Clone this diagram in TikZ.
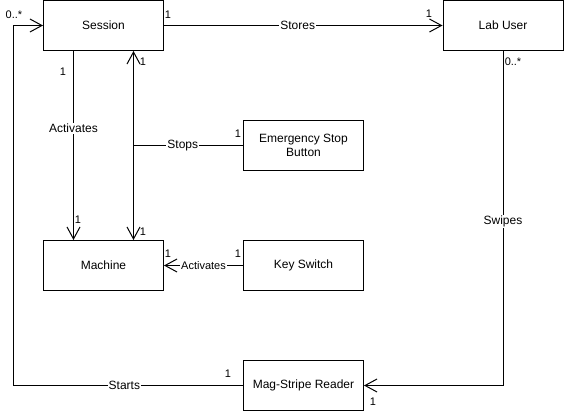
\documentclass[tikz,border=0pt]{standalone}
\usepackage{fontspec}
\setmainfont{Liberation Sans}
\usetikzlibrary{arrows.meta}
\begin{document}
\begin{tikzpicture}[x=1pt,y=-1pt,
  box/.style={draw,line width=1pt,minimum width=120pt,minimum height=50pt,inner sep=0pt,align=center,font=\fontsize{12}{14}\selectfont},
  arr/.style={line width=1pt,-{Straight Barb[length=12pt,width=13pt,line width=1pt]}},
  conn/.style={line width=1pt},
  lbl/.style={fill=white,inner sep=1pt,font=\fontsize{12}{14}\selectfont},
  mult/.style={inner sep=0pt,font=\fontsize{11}{13}\selectfont}]
\useasboundingbox (0,0) rectangle (564,412);
\node[box] (session) at (103.5,25.5) {Session};
\node[box] (labuser) at (503,25.5) {Lab User};
\node[box] (esb) at (303.5,145.5) {Emergency Stop\\Button};
\node[box] (machine) at (103.5,265.5) {Machine};
\node[box] (key) at (303.5,265.5) {Key Switch};
\node[box] (reader) at (303.5,385.5) {Mag-Stripe Reader};
% Stores
\draw[arr] (session.east) -- node[lbl,pos=0.48]{Stores} (labuser.west);
\node[mult] (m1) at (168,15) {1};
\node[mult] (m2) at (429,14) {1};
% Activates session->machine
\draw[arr] ([xshift=-30pt]session.south) -- node[lbl,pos=0.41]{Activates} ([xshift=-30pt]machine.north);
\node[mult] (m3) at (63,72) {1};
\node[mult] (m4) at (78,220) {1};
% Stops
\coordinate (sj) at ([xshift=30pt]session.south |- esb.west);
\draw[conn] (esb.west) -- node[lbl,pos=0.55]{Stops} (sj);
\draw[arr] (sj) -- ([xshift=30pt]session.south);
\draw[arr] (sj) -- ([xshift=30pt]machine.north);
\node[mult] (m5) at (238,134) {1};
\node[mult] (m6) at (143,62) {1};
\node[mult] (m7) at (143,232) {1};
% Key switch
\draw[arr] (key.west) -- node[lbl,font=\fontsize{11}{13}\selectfont]{Activates} (machine.east);
\node[mult] (m8) at (168,254) {1};
\node[mult] (m9) at (238,254) {1};
% Swipes
\draw[arr] (labuser.south) |- node[lbl,pos=0.255]{Swipes} (reader.east);
\node[mult] (m10) at (513,62) {0..*};
\node[mult] (m11) at (373,402) {1};
% Starts
\coordinate (rl) at (13.5,385.5);
\draw[arr] (reader.west) -- node[lbl,pos=0.517]{Starts} (reader.west -| rl) |- (session.west);
\node[mult] (m12) at (228,374) {1};
\node[mult] (m13) at (14,15) {0..*};
\end{tikzpicture}
\end{document}
